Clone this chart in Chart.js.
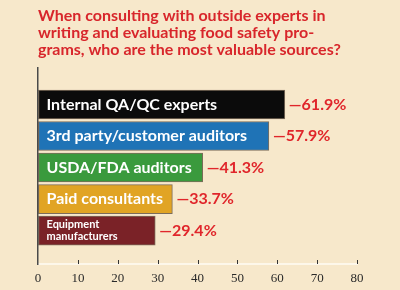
<!DOCTYPE html>
<html>
<head>
<meta charset="utf-8">
<script src="https://cdn.jsdelivr.net/npm/chart.js@4/dist/chart.umd.min.js"></script>
<style>
html,body{margin:0;padding:0;background:#f7e8cb;}
#wrap{width:400px;height:290px;position:relative;}
</style>
</head>
<body>
<div id="wrap"><canvas id="c" width="400" height="290"></canvas></div>
<script>
const titleLines = ['When consulting with outside experts in', 'writing and evaluating food safety pro-', 'grams, who are the most valuable sources?'];
const categories = ['Internal QA/QC experts', '3rd party/customer auditors', 'USDA/FDA auditors', 'Paid consultants', 'Equipment\nmanufacturers'];
const values = [61.9, 57.9, 41.3, 33.7, 29.4];
const valueLabels = ['\u201461.9%', '\u201457.9%', '\u201441.3%', '\u201433.7%', '\u201429.4%'];
const barColors = ['#0b0b0b', '#1f73b6', '#3a9a3d', '#e1a424', '#7a2227'];
const tickValues = [0, 10, 20, 30, 40, 50, 60, 70, 80];

const points = values.map((v, i) => ({ x: v, y: i }));

const labelPlugin = {
  id: 'barLabels',
  afterDatasetsDraw(chart) {
    const ctx = chart.ctx;
    const meta = chart.getDatasetMeta(0);
    ctx.save();
    meta.data.forEach((bar, i) => {
      const p = bar.getProps(['x', 'y', 'base'], true);
      const lines = categories[i].split('\n');
      ctx.fillStyle = '#ffffff';
      ctx.textBaseline = 'middle';
      ctx.textAlign = 'left';
      if (lines.length > 1) {
        ctx.font = 'bold 11px Lato';
        ctx.fillText(lines[0], p.base + 8, p.y - 6);
        ctx.fillText(lines[1], p.base + 8, p.y + 6);
      } else {
        ctx.font = 'bold 16px Lato';
        ctx.fillText(lines[0], p.base + 8, p.y);
      }
      ctx.fillStyle = '#e0262b';
      ctx.font = 'bold 16px Lato';
      ctx.fillText(valueLabels[i], p.x + 4, p.y);
    });
    ctx.restore();
  }
};

const tickPlugin = {
  id: 'innerTicks',
  afterDraw(chart) {
    const xs = chart.scales.x;
    const ctx = chart.ctx;
    ctx.save();
    ctx.strokeStyle = '#333';
    ctx.lineWidth = 1;
    xs.ticks.forEach(t => {
      if (t.value === 0) return;
      const px = Math.round(xs.getPixelForValue(t.value)) + 0.5;
      ctx.beginPath();
      ctx.moveTo(px, xs.top - 4);
      ctx.lineTo(px, xs.top);
      ctx.stroke();
    });
    ctx.restore();
  }
};

new Chart(document.getElementById('c'), {
  type: 'bar',
  data: {
    datasets: [{
      data: points,
      backgroundColor: barColors,
      borderColor: 'rgba(40,25,15,0.6)',
      borderWidth: 1,
      borderSkipped: false,
      barThickness: 29
    }]
  },
  plugins: [labelPlugin, tickPlugin],
  options: {
    indexAxis: 'y',
    responsive: false,
    animation: false,
    layout: { padding: { left: 38, right: 43, top: 0, bottom: 0 } },
    plugins: {
      legend: { display: false },
      tooltip: { enabled: false },
      title: {
        display: true,
        text: titleLines,
        align: 'start',
        color: '#d8262b',
        font: { family: 'Lato', size: 16, weight: 'bold', lineHeight: 1.06 },
        padding: { top: 7, bottom: 10 }
      }
    },
    scales: {
      x: {
        type: 'linear',
        min: 0,
        max: 80,
        afterBuildTicks(scale) { scale.ticks = tickValues.map(v => ({ value: v })); },
        afterFit(scale) { scale.height = 26; },
        grid: { display: true, drawOnChartArea: false, drawTicks: false },
        border: { display: true, color: '#fdf7ea', width: 2 },
        ticks: { color: '#2a2a2a', font: { family: 'Liberation Serif', size: 13 }, padding: 7 }
      },
      y: {
        type: 'linear',
        reverse: true,
        offset: false,
        min: -1.16,
        max: 5.06,
        grid: { display: true, drawOnChartArea: false, drawTicks: false, offset: false },
        border: { display: true, color: '#4a4a4a', width: 1.5 },
        ticks: { display: false }
      }
    }
  }
});
</script>
</body>
</html>
